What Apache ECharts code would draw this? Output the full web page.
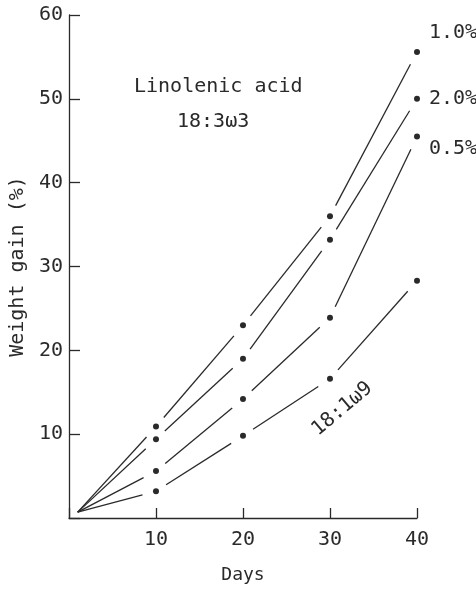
<!DOCTYPE html>
<html>
<head>
<meta charset="utf-8">
<script src="https://cdn.jsdelivr.net/npm/echarts@6/dist/echarts.min.js"></script>
<style>
html,body{margin:0;padding:0;background:#fff;}
#chart{width:476px;height:591px;}
</style>
</head>
<body>
<div id="chart"></div>
<script>
const days = [1, 10, 20, 30, 40];
const gain1_0 = [0.7, 10.9, 23.0, 36.0, 55.6];
const gain2_0 = [0.7, 9.4, 19.0, 33.2, 50.0];
const gain0_5 = [0.7, 5.6, 14.2, 23.9, 45.5];
const gainOleic = [0.7, 3.2, 9.8, 16.6, 28.3];
const seriesNames = ['1.0%', '2.0%', '0.5%', '18:1ω9'];
const xTickLabels = [10, 20, 30, 40];
const yTickLabels = [10, 20, 30, 40, 50, 60];
const titleLines = ['Linolenic acid', '18:3ω3'];
const xName = 'Days';
const yName = 'Weight gain (%)';

const INK = '#2a2a2a';
const FONT = '"DejaVu Sans Mono", "Liberation Mono", monospace';
const GAP_BEFORE = 14;
const GAP_AFTER = 12;

const allVals = [gain1_0, gain2_0, gain0_5, gainOleic];
const endOffsets = [[3, -19], [3, 0], [3, 12]];

const series = [];
// connecting lines, broken around each plotted point (as in the original figure)
allVals.forEach((vals, k) => {
  series.push({
    name: seriesNames[k],
    type: 'custom',
    coordinateSystem: 'cartesian2d',
    data: days.map((d, i) => [d, vals[i]]),
    renderItem: function (params, api) {
      const i = params.dataIndex;
      if (i === 0) return null;
      const a = api.coord([days[i - 1], vals[i - 1]]);
      const b = api.coord([days[i], vals[i]]);
      const dx = b[0] - a[0], dy = b[1] - a[1];
      const len = Math.sqrt(dx * dx + dy * dy);
      const ux = dx / len, uy = dy / len;
      const s0 = i === 1 ? 0 : GAP_AFTER;
      return {
        type: 'line',
        shape: {
          x1: a[0] + ux * s0, y1: a[1] + uy * s0,
          x2: b[0] - ux * GAP_BEFORE, y2: b[1] - uy * GAP_BEFORE
        },
        style: { stroke: INK, lineWidth: 1.3, fill: null }
      };
    },
    silent: true,
    animation: false
  });
});
// plotted points
allVals.forEach((vals, k) => {
  const data = days.slice(1).map((d, i) => [d, vals[i + 1]]);
  if (k < 3) {
    const last = data.length - 1;
    data[last] = {
      value: data[last],
      label: {
        show: true,
        formatter: () => seriesNames[k],
        position: 'right',
        distance: 6,
        offset: endOffsets[k],
        color: INK,
        fontFamily: FONT,
        fontSize: 20
      }
    };
  } else {
    data[2] = {
      value: data[2],
      label: {
        show: true,
        formatter: () => seriesNames[3],
        rotate: 40,
        color: INK,
        fontFamily: FONT,
        fontSize: 20,
        position: 'inside',
        offset: [-10, 31]
      }
    };
  }
  series.push({
    name: seriesNames[k] + ' points',
    type: 'scatter',
    data: data,
    symbol: 'circle',
    symbolSize: 6,
    itemStyle: { color: INK, opacity: 1 },
    emphasis: { disabled: true },
    animation: false
  });
});

const chart = echarts.init(document.getElementById('chart'), null, { renderer: 'canvas' });
chart.setOption({
  backgroundColor: '#fff',
  animation: false,
  grid: { left: 67, right: 59, top: 15, bottom: 73 },
  xAxis: {
    type: 'value',
    min: 0, max: 40, interval: 10,
    name: xName,
    nameLocation: 'middle',
    nameGap: 48,
    nameTextStyle: { color: INK, fontFamily: FONT, fontSize: 18 },
    axisLine: { lineStyle: { color: INK, width: 1.3 } },
    axisTick: { inside: true, length: 10, lineStyle: { color: INK, width: 1.3 } },
    axisLabel: {
      color: INK, fontFamily: FONT, fontSize: 20, margin: 12,
      formatter: v => xTickLabels.includes(v) ? String(v) : ''
    },
    splitLine: { show: false }
  },
  yAxis: {
    type: 'value',
    min: 0, max: 60, interval: 10,
    name: yName,
    nameLocation: 'middle',
    nameGap: 36,
    nameTextStyle: { color: INK, fontFamily: FONT, fontSize: 20 },
    axisLine: { lineStyle: { color: INK, width: 1.3 } },
    axisTick: { inside: true, length: 11, lineStyle: { color: INK, width: 1.3 } },
    axisLabel: {
      color: INK, fontFamily: FONT, fontSize: 20, margin: 6,
      formatter: v => yTickLabels.includes(v) ? String(v) : ''
    },
    splitLine: { show: false }
  },
  graphic: [
    { type: 'text', left: 134, top: 77, style: { text: titleLines[0], fill: INK, font: '20px ' + FONT } },
    { type: 'text', left: 177, top: 112, style: { text: titleLines[1], fill: INK, font: '20px ' + FONT } }
  ],
  series: series
});
</script>
</body>
</html>
